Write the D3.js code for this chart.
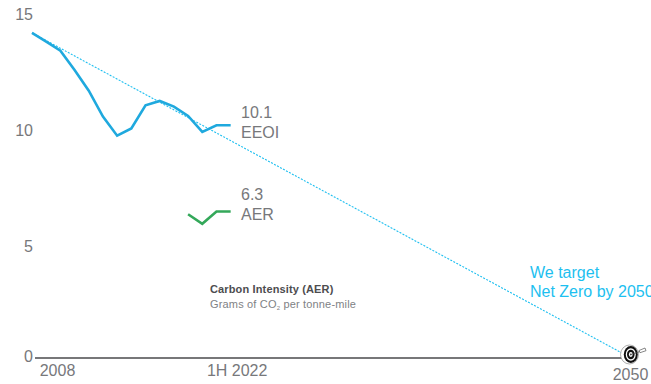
<!DOCTYPE html>
<html>
<head>
<meta charset="utf-8">
<script src="https://cdn.jsdelivr.net/npm/d3@7"></script>
<style>
  html, body { margin: 0; padding: 0; background: #fff; }
  svg { display: block; }
  text { font-family: "Liberation Sans", Arial, sans-serif; }
</style>
</head>
<body>
<svg id="chart" width="651" height="384"></svg>
<script>
// Carbon intensity history and the straight-line path to net zero
const years = [2008, 2009, 2010, 2011, 2012, 2013, 2014, 2015, 2016, 2017, 2018, 2019, 2020, 2021, 2022];
const eeoiValues = [14.17, 13.78, 13.38, 12.53, 11.62, 10.48, 9.64, 9.96, 10.98, 11.17, 10.92, 10.51, 9.81, 10.1, 10.1];
const aerYears = [2019, 2020, 2021, 2022];
const aerValues = [6.18, 5.76, 6.3, 6.3];
const targetYears = [2008, 2050];
const targetValues = [14.17, -0.08];
const yTicks = [0, 5, 10, 15];
const xTicks = [2008, 2022, 2050];
const xTickLabels = ["2008", "1H 2022", "2050"];

const svg = d3.select("#chart");
const grey = "#77787b";
const cyan = "#1dbff0";

const x = d3.scaleLinear().domain([2008, 2050]).range([32, 628]);
const y = d3.scaleLinear().domain([0, 15]).range([354.5, 14]);
const baselineY = 358;

// Tick labels are spaced slightly unevenly against the plotted values
const yLabelPos = d3.scaleLinear().domain(yTicks).range([356.5, 246, 130.3, 14.5]);

const line = d3.line().x(d => x(d[0])).y(d => y(d[1]));

// Baseline
svg.append("line")
  .attr("x1", 35).attr("x2", 622)
  .attr("y1", baselineY).attr("y2", baselineY)
  .attr("stroke", "#4a4a4c").attr("stroke-width", 1.3);

// Y axis labels
const yAxis = svg.append("g")
  .attr("transform", "translate(33,0)")
  .call(d3.axisLeft(yLabelPos).tickValues(yTicks).tickSize(0).tickPadding(0));
yAxis.select(".domain").remove();
yAxis.selectAll("text")
  .attr("font-size", 16).attr("fill", grey)
  .style("font-family", '"Liberation Sans", Arial, sans-serif');

// X axis labels
const xAxis = svg.append("g")
  .attr("transform", `translate(0,${baselineY})`)
  .call(d3.axisBottom(x).tickValues(xTicks).tickSize(0).tickPadding(7)
    .tickFormat((d, i) => xTickLabels[i]));
xAxis.select(".domain").remove();
xAxis.selectAll("text")
  .attr("font-size", 16).attr("fill", grey)
  .style("font-family", '"Liberation Sans", Arial, sans-serif');
xAxis.selectAll(".tick").filter(d => d === 2008).select("text").attr("dx", 25);
xAxis.selectAll(".tick").filter(d => d === 2022).select("text").attr("dx", 6);
xAxis.selectAll(".tick").filter(d => d === 2050).select("text").attr("dx", 2).attr("dy", "0.95em");

// Net-zero path
svg.append("path")
  .datum(targetYears.map((d, i) => [d, targetValues[i]]))
  .attr("d", line)
  .attr("fill", "none")
  .attr("stroke", cyan)
  .attr("stroke-width", 1.1)
  .attr("stroke-dasharray", "2 1.4");

// EEOI series
svg.append("path")
  .datum(years.map((d, i) => [d, eeoiValues[i]]))
  .attr("d", line)
  .attr("fill", "none")
  .attr("stroke", "#1fa9de")
  .attr("stroke-width", 2.6);

// AER series
svg.append("path")
  .datum(aerYears.map((d, i) => [d, aerValues[i]]))
  .attr("d", line)
  .attr("fill", "none")
  .attr("stroke", "#34a85a")
  .attr("stroke-width", 2.6);

// End-of-line labels
function endLabel(value, name, top) {
  const lx = 241;
  svg.append("text").attr("x", lx).attr("y", top).attr("font-size", 16).attr("fill", grey).text(value);
  svg.append("text").attr("x", lx).attr("y", top + 20).attr("font-size", 16).attr("fill", grey).text(name);
}
endLabel("10.1", "EEOI", 118);
endLabel("6.3", "AER", 200);

// Target callout, running off the right edge
svg.append("text").attr("x", 530).attr("y", 278).attr("font-size", 16).attr("fill", cyan).text("We target");
svg.append("text").attr("x", 530).attr("y", 297).attr("font-size", 16).attr("fill", cyan).text("Net Zero by 2050");

// Chart note
svg.append("text").attr("x", 210).attr("y", 293).attr("font-size", 11).attr("font-weight", 700).attr("letter-spacing", 0.14).attr("fill", "#4d4d4f").text("Carbon Intensity (AER)");
const note = svg.append("text").attr("x", 210).attr("y", 308).attr("font-size", 11).attr("letter-spacing", 0.17).attr("fill", "#808285");
note.append("tspan").text("Grams of CO");
note.append("tspan").attr("font-size", 6).attr("dy", 2).text("2");
note.append("tspan").attr("dy", -2).text(" per tonne-mile");

// Bullseye marking the 2050 goal, with a flight arrow stuck in it
const target = svg.append("g").attr("transform", "translate(630,354.5)");
target.append("ellipse").attr("cx", -0.5).attr("rx", 9).attr("ry", 9.5).attr("fill", "#fff").attr("stroke", "#777").attr("stroke-width", 0.6);
[[7, 8.5, "#111"], [5, 6.2, "#fff"], [3.8, 4.8, "#111"], [1.9, 2.4, "#fff"], [0.8, 1, "#444"]].forEach(([rx, ry, fill]) => {
  target.append("ellipse").attr("cx", 0.8).attr("rx", rx).attr("ry", ry).attr("fill", fill);
});
target.append("line").attr("x1", 1).attr("y1", 0).attr("x2", 13).attr("y2", -4).attr("stroke", "#444").attr("stroke-width", 0.7);
target.append("path").attr("d", "M9,-4 L15,-6.5 L16,-3.8 L10,-1.8 Z").attr("fill", "#fff").attr("stroke", "#555").attr("stroke-width", 0.7);
</script>
</body>
</html>
